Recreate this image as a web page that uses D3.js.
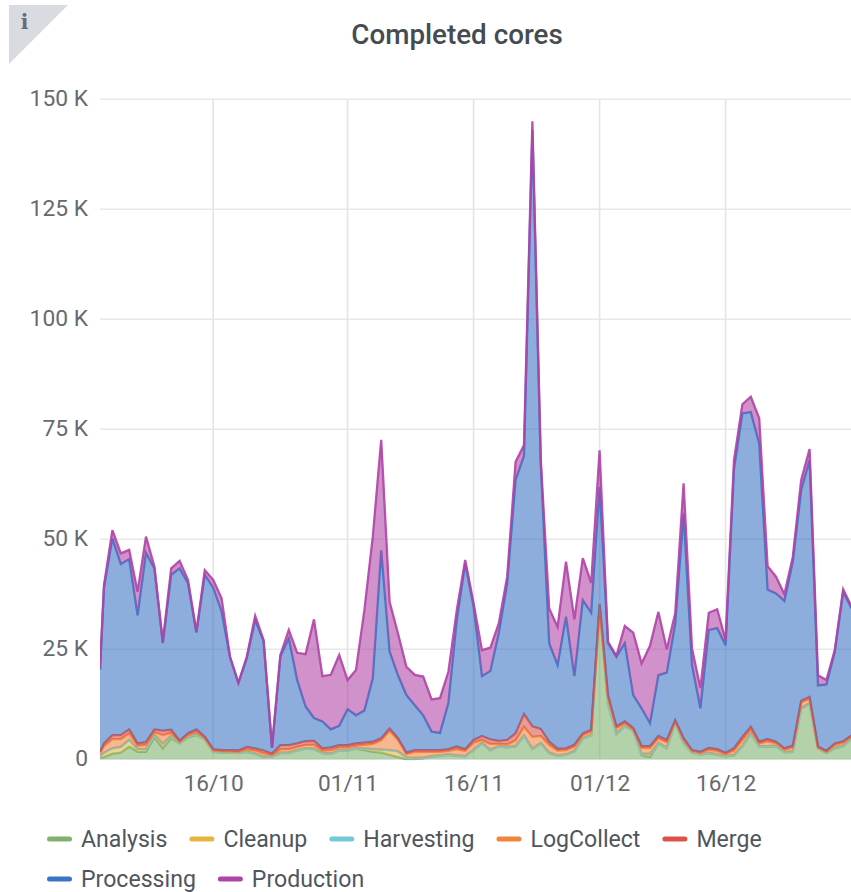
<!DOCTYPE html>
<html>
<head>
<meta charset="utf-8">
<style>
  html, body { margin: 0; padding: 0; background: #fff; }
  svg { display: block; }
  text { font-family: Roboto, sans-serif; }
</style>
<script src="https://cdn.jsdelivr.net/npm/d3@7"></script>
</head>
<body>
<svg id="chart" width="851" height="892"></svg>
<script>
// values are thousands of cores per day, first entry is the partial day at the left edge
const seriesNames = ["Analysis", "Cleanup", "Harvesting", "LogCollect", "Merge", "Processing", "Production"];
const seriesColors = ["#7eb26d", "#e5b53f", "#74c8da", "#ef843c", "#d9534a", "#3a74c5", "#b043a6"];

const analysis = [0.3, 0.5, 1.3, 1.5, 2.9, 1.7, 1.7, 5, 2.5, 4.8, 3.6, 5, 5.5, 4.5, 1.7, 1.5, 1.5, 1.4, 1.7, 1.2, 0.5,
    0.6, 1.4, 1.4, 2, 2.4, 2.3, 1.4, 1.2, 2, 2, 2.4, 2.1, 1.7, 1.5, 1, 0.5, 0, 0, 0.2, 0.6, 0.8, 1, 0.8, 0.6, 2.1, 3.6,
    2, 2.9, 2.7, 2.9, 5.3, 2.3, 3.6, 1.4, 0.8, 1, 1.8, 4.7, 5.4, 34.5, 12.5, 5.7, 7.5, 6.5, 0.9, 0.5, 3.6, 2.5, 8.1, 3.6,
    1.5, 1, 1.4, 1, 0.7, 0.9, 2.9, 5.8, 2.9, 2.9, 3, 1.6, 1.7, 11.5, 12.6, 2.5, 1.4, 2.5, 3, 4.7];
const cleanup = [0.4, 1, 1.2, 1.3, 1.5, 0.6, 0.6, 0.6, 1, 0.5, 0.2, 0.2, 0.2, 0.1, 0.1, 0.1, 0.1, 0.1, 0.1, 0.1, 0.1,
    0.1, 0.1, 0.1, 0.1, 0.1, 0.1, 0.1, 0.1, 0.1, 0.1, 0.1, 0.3, 0.6, 0.7, 1.1, 1.3, 0.4, 0.3, 0.1, 0.1, 0.1, 0.1, 0.1, 0.1, 0.1, 0.1,
    0.1, 0.1, 0.1, 0.1, 0.1, 0.1, 0.1, 0.1, 0.1, 0.1, 0.1, 0.1, 0.1, 0.1, 0.2, 0.2, 0.1, 0.1, 0.3, 0.7, 0.1, 0.1, 0.1, 0.1,
    0.1, 0.1, 0.1, 0.1, 0.1, 0.1, 0.1, 0.1, 0.1, 0.1, 0.1, 0.1, 0.1, 0.1, 0.1, 0.1, 0.1, 0.1, 0.1, 0.1];
const harvesting = [0, 0, 0, 0, 0, 0, 0, 0, 0, 0, 0, 0, 0, 0, 0, 0, 0, 0, 0, 0, 0,
    0, 0, 0, 0, 0, 0, 0, 0, 0, 0, 0, 0, 0, 0, 0, 0, 0, 0, 0, 0, 0, 0, 0, 0, 0, 0,
    0, 0, 0, 0, 0, 0, 0, 0, 0, 0, 0, 0, 0, 0, 0, 0, 0, 0, 0, 0, 0, 0, 0, 0,
    0, 0, 0, 0, 0, 0, 0, 0, 0, 0, 0, 0, 0, 0, 0, 0, 0, 0, 0, 0];
const logCollect = [0.7, 1.5, 2.1, 1.8, 1.5, 0.8, 1, 0.6, 2, 0.7, 0.2, 0.3, 0.5, 0.2, 0.2, 0.2, 0.2, 0.2, 0.5, 0.7, 0.8,
    0.3, 0.8, 0.8, 0.7, 0.8, 0.9, 0.5, 0.8, 0.6, 0.6, 0.6, 0.9, 1.2, 2.1, 4.4, 2.6, 0.8, 1.4, 1.4, 1, 0.8, 0.8, 1.4, 1.2, 1.6, 0.7,
    1.4, 0.5, 0.6, 1.3, 2, 2.7, 1.6, 1.8, 1.1, 1, 1, 0.7, 0.8, 0.4, 1.4, 1.2, 0.6, 0.2, 1.4, 1.4, 1.1, 1.3, 0.4, 0.8,
    0.3, 0.4, 0.7, 0.8, 0.4, 1, 1.4, 0.9, 0.6, 1.1, 0.6, 0.5, 0.9, 1.3, 1.1, 0.1, 0.2, 0.7, 0.7, 0.3];
const merge = [0.3, 0.6, 0.9, 0.9, 0.9, 0.5, 0.6, 0.6, 1, 0.7, 0.2, 0.4, 0.6, 0.3, 0.3, 0.3, 0.3, 0.3, 0.5, 0.5, 0.6,
    0.3, 0.9, 0.9, 0.8, 0.8, 0.9, 0.5, 0.6, 0.5, 0.5, 0.5, 0.5, 0.5, 0.5, 0.5, 0.4, 0.3, 0.4, 0.4, 0.4, 0.4, 0.4, 0.6, 0.4, 0.6, 0.9,
    1, 0.7, 1, 1.6, 2.9, 2.4, 1.6, 0.7, 0.4, 0.4, 0.4, 0.4, 0.4, 0.3, 0.5, 0.4, 0.4, 0.3, 0.4, 0.4, 0.5, 0.5, 0.3, 0.3,
    0.2, 0.2, 0.4, 0.4, 0.3, 0.5, 0.7, 0.6, 0.4, 0.5, 0.3, 0.3, 0.4, 0.4, 0.4, 0.2, 0.2, 0.3, 0.3, 0.3];
const processing = [18.6, 35.4, 44.7, 38.9, 38.7, 29.1, 43, 36.6, 19.9, 35.2, 39.2, 34.1, 22, 36.8, 36.7, 31.5, 21.1, 15.3, 20.2, 29.2, 24.8,
    1.3, 20.2, 24.3, 14.4, 7.9, 5.2, 6.1, 4.1, 4.4, 8.2, 6.4, 7.3, 14.4, 42.7, 17.5, 14.3, 13.1, 10.2, 7.9, 4.2, 3.9, 10.5, 28.8, 42.2, 30.3, 13.6,
    15.6, 24.5, 35.6, 57.6, 58.7, 135.5, 60.1, 22.4, 19, 29.9, 15.6, 30.3, 26.6, 26.6, 11.8, 15.8, 17.8, 7.5, 8.6, 5.2, 13.8, 15.3, 21.9, 51.1,
    19.3, 9.9, 26.8, 27.5, 24.4, 63.5, 73.5, 71.5, 67.8, 34, 33.7, 33.5, 41.8, 47.9, 53.8, 13.9, 15.1, 20.9, 34, 28.9];
const production = [0.4, 0.6, 1.9, 2.4, 2.1, 5.4, 3.7, 0.4, 0.3, 1.5, 1.7, 0.8, 0.2, 1.1, 1.8, 3, 0.1, 0.1, 0.3, 0.9, 0.3,
    0.1, 0.3, 1.9, 6.2, 11.9, 22.4, 10.3, 12.4, 16.1, 6.6, 10.3, 22.8, 32.2, 25.1, 11.3, 9.5, 6.4, 6.9, 8.8, 7.3, 7.9, 7.1, 2.2, 0.8, 0.8, 5.9,
    5.3, 2.2, 1.5, 4.1, 2.4, 2, 1, 7.9, 8.7, 12.5, 12.9, 9.5, 6.8, 8.3, 0.3, 0.2, 3.9, 14.2, 10.2, 17.6, 14.4, 5.3, 2.4, 6.8,
    3.8, 4.6, 3.9, 4.3, 1.2, 2, 2.1, 3.5, 5.7, 5.3, 3.8, 1.5, 1.1, 2.3, 2.5, 2.3, 1, 0.3, 0.5, 0.4];

const yTicks = [0, 25, 50, 75, 100, 125, 150];
const xTicks = [new Date(Date.UTC(2017, 9, 16)), new Date(Date.UTC(2017, 10, 1)), new Date(Date.UTC(2017, 10, 16)),
    new Date(Date.UTC(2017, 11, 1)), new Date(Date.UTC(2017, 11, 16))];

const firstTime = new Date(Date.UTC(2017, 9, 2, 12, 35));
const times = [firstTime].concat(d3.utcDay.range(new Date(Date.UTC(2017, 9, 3)), new Date(Date.UTC(2018, 0, 1))));
const lists = [analysis, cleanup, harvesting, logCollect, merge, processing, production];

// table for d3.stack
const table = times.map((t, i) => {
    let row = {time: t};
    seriesNames.forEach((name, s) => { row[name] = lists[s][i]; });
    return row;
});

let svg = d3.select("#chart");
let margin = {top: 99.3, right: 0, bottom: 132.7, left: 100};
let width = +svg.attr("width") - margin.left - margin.right;
let height = +svg.attr("height") - margin.top - margin.bottom;

// day k sits at 104 + 8.4k, so the left edge is just before Oct 3
let x_scale = d3.scaleUtc()
    .domain([firstTime, new Date(firstTime.getTime() + width / 8.4 * 864e5)])
    .range([0, width]);

let y_scale = d3.scaleLinear()
    .domain([0, 150])
    .range([height, 0]);

// info corner
svg.append("path")
    .attr("d", "M9,5H68L9,64Z")
    .attr("fill", "#d8dce0");
svg.append("text")
    .attr("x", 24.5)
    .attr("y", 29)
    .attr("text-anchor", "middle")
    .style("font-family", "'DejaVu Serif', serif")
    .style("font-weight", "bold")
    .style("font-size", "20px")
    .attr("fill", "#666c72")
    .text("i");

// title
svg.append("text")
    .attr("x", 457)
    .attr("y", 44)
    .attr("text-anchor", "middle")
    .style("font-size", "27.8px")
    .style("font-weight", 500)
    .attr("fill", "#454b52")
    .text("Completed cores");

let g = svg.append("g")
    .attr("transform", `translate(${margin.left},${margin.top})`);

g.append("defs").append("clipPath")
    .attr("id", "plot-clip")
    .append("rect")
    .attr("x", 0)
    .attr("y", -5)
    .attr("width", width)
    .attr("height", height + 6);

// grid lines
g.append("g")
    .selectAll("line")
    .data(yTicks)
    .join("line")
    .attr("x1", 0)
    .attr("x2", width)
    .attr("y1", d => y_scale(d))
    .attr("y2", d => y_scale(d))
    .attr("stroke", "#e8e8e8")
    .attr("stroke-width", 1.6);

g.append("g")
    .selectAll("line")
    .data(xTicks)
    .join("line")
    .attr("x1", d => x_scale(d))
    .attr("x2", d => x_scale(d))
    .attr("y1", 0)
    .attr("y2", height)
    .attr("stroke", "#e4e4e4")
    .attr("stroke-width", 1.6);

// x axis
g.append("g")
    .attr("class", "axis axis-x")
    .attr("transform", "translate(0," + height + ")")
    .call(d3.axisBottom(x_scale).tickValues(xTicks).tickFormat(d3.utcFormat("%d/%m")).tickSize(0).tickPadding(16))
    .call(a => a.select(".domain").remove())
    .call(a => a.selectAll(".tick text")
        .style("font-family", "Roboto, sans-serif")
        .style("font-size", "22.6px")
        .style("fill", "#666a70"));

// y axis
g.append("g")
    .attr("class", "axis axis-y")
    .call(d3.axisLeft(y_scale).tickValues(yTicks).tickFormat(d => d === 0 ? "0" : d + " K").tickSize(0).tickPadding(12))
    .call(a => a.select(".domain").remove())
    .call(a => a.selectAll(".tick text")
        .attr("dy", "0.26em")
        .style("font-family", "Roboto, sans-serif")
        .style("font-size", "22.8px")
        .style("fill", "#666a70"));

// stacked areas
let stacked = d3.stack().keys(seriesNames)(table);

let area = d3.area()
    .x(d => x_scale(d.data.time))
    .y0(d => y_scale(d[0]))
    .y1(d => y_scale(d[1]));

let line = d3.line()
    .x(d => x_scale(d.data.time))
    .y(d => y_scale(d[1]));

let layers = g.append("g")
    .attr("clip-path", "url(#plot-clip)")
    .selectAll("g")
    .data(stacked)
    .join("g");

layers.append("path")
    .attr("d", area)
    .attr("fill", (d, i) => seriesColors[i])
    .attr("fill-opacity", 0.58);

layers.append("path")
    .attr("d", line)
    .attr("fill", "none")
    .attr("stroke", (d, i) => seriesColors[i])
    .attr("stroke-width", 2.3)
    .attr("stroke-opacity", 0.9);

// legend, flows in two rows
let legend = svg.append("g");
let legendX = 47;
let legendY = 839;
seriesNames.forEach((name, i) => {
    let item = legend.append("g");
    let label = item.append("text")
        .attr("x", 34)
        .attr("y", 8)
        .style("font-size", "23.1px")
        .attr("fill", "#50565c")
        .text(name);
    let w = 34 + label.node().getComputedTextLength();
    if (legendX + w > 851) {
        legendX = 47;
        legendY += 40;
    }
    item.attr("transform", `translate(${legendX},${legendY})`);
    item.append("rect")
        .attr("x", 0)
        .attr("y", -2.5)
        .attr("width", 25)
        .attr("height", 5)
        .attr("rx", 2.5)
        .attr("fill", seriesColors[i]);
    legendX += w + 22;
});
</script>
</body>
</html>
